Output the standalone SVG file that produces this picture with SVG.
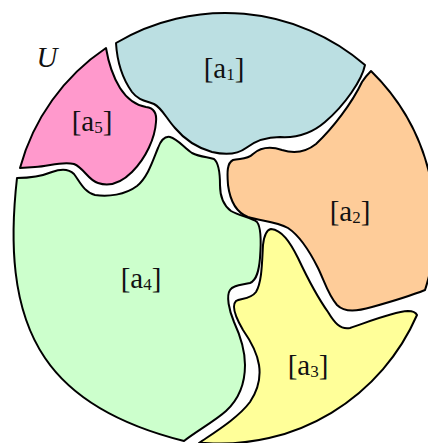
<svg xmlns="http://www.w3.org/2000/svg" width="428" height="443" viewBox="0 0 428 443">
<style>
.r{stroke:#000;stroke-width:2;stroke-linejoin:round}
.t{font-family:"Liberation Serif","Times New Roman",serif;font-size:29px;fill:#111;text-anchor:middle}
.s{font-size:17px}
</style>
<rect width="428" height="443" fill="#fff"/>
<g id="a1">
<path class="r" fill="#bbdfe2" d="M116,43 A214,214 0 0 1 365,65 C362,80 345,105 325,122 C310,135 295,138 280,137 C265,137 255,141 246,148 C238,154 225,155 212,152 C198,148 185,140 175,128 C166,118 162,108 154,104 C146,101 138,100 132,92 C122,78 117,60 116,43 Z"/>
<text class="t" x="224" y="78">[a<tspan class="s" dy="2">1</tspan><tspan dy="-2">]</tspan></text>
</g>
<g id="a2">
<path class="r" fill="#fecc99" d="M371,71 A214,214 0 0 1 425,290 C410,296 390,302 372,307 C358,311 345,313 337,305 C328,295 324,280 318,268 C310,252 300,236 288,228 C276,221 260,221 248,217 C235,212 230,200 228,185 C227,172 227,163 233,160 C240,158 247,160 253,154 C260,148 270,146 282,150 C295,154 306,152 316,144 C333,128 352,103 362,82 C365,77 368,74 371,71 Z"/>
<text class="t" x="350" y="221">[a<tspan class="s" dy="2">2</tspan><tspan dy="-2">]</tspan></text>
</g>
<g id="a3">
<path class="r" fill="#ffff99" d="M271,229 C282,230 290,242 298,258 C306,275 318,298 328,312 C334,322 340,330 350,328 C368,322 392,312 408,311 C413,311 416,313 417,315 A214,214 0 0 1 205,443 L199,443 C215,432 238,418 250,402 C258,390 261,378 259,365 C257,352 250,340 243,330 C236,318 231,306 236,301 C240,298 250,300 256,292 C262,282 262,262 263,245 C264,236 266,230 271,229 Z"/>
<text class="t" x="308" y="375">[a<tspan class="s" dy="2">3</tspan><tspan dy="-2">]</tspan></text>
</g>
<g id="a4">
<path class="r" fill="#ccffcc" d="M17,178 C30,178 42,176 52,172 C60,169 68,168 74,174 C80,182 84,192 95,195 C108,197 125,195 137,186 C148,177 153,160 158,148 C161,140 165,136 170,137 C178,139 184,148 192,153 C200,157 208,157 214,159 C219,163 220,172 220,185 C220,196 223,205 231,211 C240,216 252,218 257,222 C261,227 261,245 260,258 C259,270 257,280 250,283 C242,285 233,285 230,290 C226,296 229,310 234,322 C240,335 245,350 245,365 C245,385 238,400 226,411 C215,421 195,432 184,441 C132,428 76,404 45,358 C11,308 10,240 17,178 Z"/>
<text class="t" x="141" y="288">[a<tspan class="s" dy="2">4</tspan><tspan dy="-2">]</tspan></text>
</g>
<g id="a5">
<path class="r" fill="#ff99cc" d="M20,168 A211,211 0 0 1 106,48 C108,60 112,75 120,88 C127,99 135,105 146,107 C154,108 157,113 156,122 C155,138 146,158 132,172 C122,182 110,187 98,183 C88,180 84,168 74,164 C62,161 50,166 35,167 L20,168 Z"/>
<text class="t" x="92" y="131">[a<tspan class="s" dy="2">5</tspan><tspan dy="-2">]</tspan></text>
</g>
<g id="U">
<text class="t" x="47" y="67" font-style="italic">U</text>
</g>
<g id="connectors"/>
</svg>
